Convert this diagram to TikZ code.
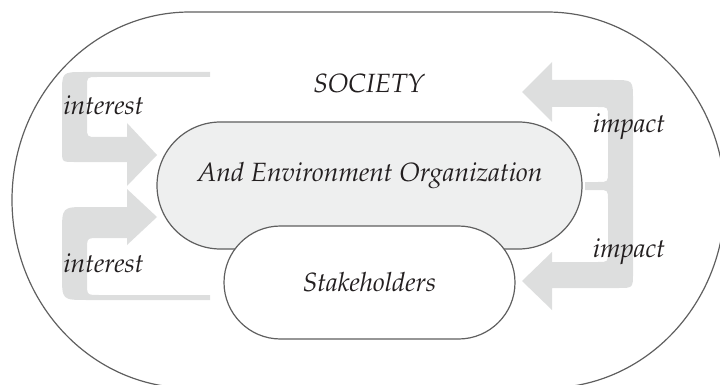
\documentclass[tikz,border=0pt]{standalone}
\usepackage[T1]{fontenc}
\renewcommand{\rmdefault}{ppl}
\usetikzlibrary{shapes.misc}

\definecolor{edge}{RGB}{95,95,95}
\definecolor{orgfill}{RGB}{238,239,239}
\definecolor{flow}{RGB}{221,222,222}
\definecolor{ink}{RGB}{35,31,32}

\tikzset{
  box/.style={rounded rectangle, draw=edge, line width=1.2pt, inner sep=0pt, outer sep=0pt},
  lbl/.style={anchor=base, inner sep=0pt, text=ink, font=\fontsize{26.4}{31}\selectfont\itshape},
  flowarrow/.style={fill=flow, draw=none},
  frame/.style={draw=edge, line width=1.2pt}
}

\begin{document}
\begin{tikzpicture}[x=1pt, y=-1pt]
  \useasboundingbox (0,0) rectangle (720,385);
  \clip (0,0) rectangle (720,385);

  % society boundary
  \draw[frame] (190,12) -- (547,12)
      arc[start angle=-90, end angle=90, x radius=178, y radius=188]
      -- (190,388)
      arc[start angle=90, end angle=270, x radius=178, y radius=188]
      -- cycle;

  % interest flows (left)
  \fill[flowarrow] (210,72) -- (84,72) .. controls (62,72) .. (62,94)
      -- (62,150) .. controls (62,162) .. (74,162) -- (127,162) -- (127,186)
      -- (157,155) -- (127,123) -- (127,137) -- (97,137) .. controls (87,137) .. (87,127)
      -- (87,87) .. controls (87,77) .. (97,77) -- (210,77) -- cycle;
  \fill[flowarrow] (210,300) -- (87,300) .. controls (62,300) .. (62,275)
      -- (62,233) .. controls (62,207) .. (87,207) -- (127,207) -- (127,189)
      -- (157,217) -- (127,245) -- (127,238) -- (99,238) .. controls (87,238) .. (87,250)
      -- (87,283) .. controls (87,295) .. (99,295) -- (210,295) -- cycle;

  % impact flows (right)
  \fill[flowarrow] (585,182) -- (598,182) .. controls (608,182) .. (608,172)
      -- (608,117) .. controls (608,107) .. (598,107) -- (552,107) -- (552,122)
      -- (522,92) -- (552,62) -- (552,80) -- (613,80) .. controls (633,80) .. (633,100)
      -- (633,186) -- (585,186) -- cycle;
  \fill[flowarrow] (585,190) -- (598,190) .. controls (608,190) .. (608,200)
      -- (608,252) .. controls (608,262) .. (598,262) -- (552,262) -- (552,252)
      -- (522,281) -- (552,310) -- (552,288) -- (618,288) .. controls (633,288) .. (633,273)
      -- (633,186) -- (585,186) -- cycle;

  % organization and stakeholders
  \node[box, fill=orgfill, minimum width=425pt, minimum height=127pt] (org) at (369.5,185.5) {};
  \node[box, fill=white, minimum width=291pt, minimum height=113pt] (stake) at (369.5,282.5) {};

  % labels
  \node[lbl] (society) at (369,93) {SOCIETY};
  \node[lbl] (orgtext) at (370,181) {And Environment Organization};
  \node[lbl] (staketext) at (369.5,291) {Stakeholders};
  \node[lbl] (interestA) at (103.5,115) {interest};
  \node[lbl] (interestB) at (103.5,272) {interest};
  \node[lbl] (impactA) at (629,133) {impact};
  \node[lbl] (impactB) at (629,257) {impact};
\end{tikzpicture}
\end{document}
